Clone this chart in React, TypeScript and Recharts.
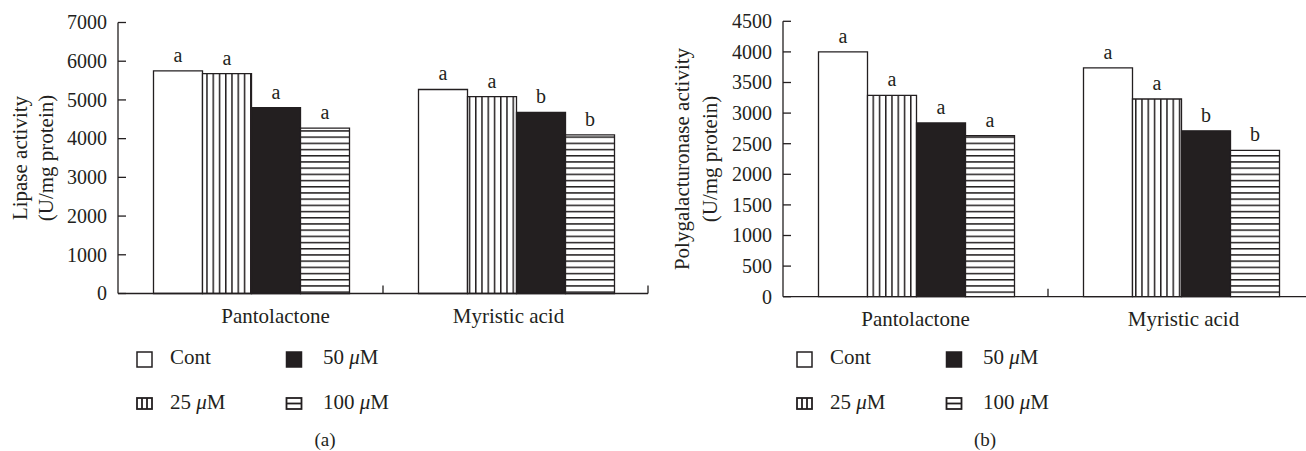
import React from 'react';
import { BarChart, Bar, XAxis, YAxis, LabelList } from 'recharts';

const categories = ['Pantolactone', 'Myristic acid'];
const seriesNames = ['Cont', '25', '50', '100'];

const lipaseCont = [5750, 5270];
const lipase25 = [5680, 5085];
const lipase50 = [4800, 4680];
const lipase100 = [4270, 4095];
const lipaseLetters = [
  ['a', 'a'],
  ['a', 'a'],
  ['a', 'b'],
  ['a', 'b'],
];
const lipaseTicks = [0, 1000, 2000, 3000, 4000, 5000, 6000, 7000];

const pgCont = [4000, 3740];
const pg25 = [3290, 3230];
const pg50 = [2840, 2710];
const pg100 = [2630, 2390];
const pgLetters = [
  ['a', 'a'],
  ['a', 'a'],
  ['a', 'b'],
  ['a', 'b'],
];
const pgTicks = [0, 500, 1000, 1500, 2000, 2500, 3000, 3500, 4000, 4500];

const INK = '#231f20';
const FONT = '"Liberation Serif", "DejaVu Serif", serif';

function buildData(series: number[][], letters: string[][]) {
  return categories.map((cat, i) => {
    const row: any = { cat };
    series.forEach((s, k) => {
      row[`s${k}`] = s[i];
      row[`l${k}`] = letters[k][i];
    });
    return row;
  });
}

const lipaseData = buildData([lipaseCont, lipase25, lipase50, lipase100], lipaseLetters);
const pgData = buildData([pgCont, pg25, pg50, pg100], pgLetters);

type PanelProps = {
  id: string;
  data: any[];
  ticks: number[];
  yLines: string[];
  yLineX: number[];
  axisX: number;
  plotTop: number;
  plotBottom: number;
  rightMargin: number;
  labelShift: number[];
  panelLabel: string;
};

const W = 660;
const H = 340;

function Panel(p: PanelProps) {
  const plotWidth = W - p.axisX - p.rightMargin;
  const band = plotWidth / categories.length;
  const fills = ['#ffffff', `url(#${p.id}-v)`, INK, `url(#${p.id}-h)`];

  const YTick = (props: any) => {
    const { x, y, payload } = props;
    return (
      <g>
        <line x1={x} x2={x + 8} y1={y} y2={y} stroke={INK} strokeWidth={1.3} />
        <text x={x - 11} y={y} dy="0.34em" textAnchor="end" fontFamily={FONT} fontSize={20} fill={INK}>
          {payload.value}
        </text>
      </g>
    );
  };

  const XTick = (props: any) => {
    const { x, y, payload, index } = props;
    const bx = x + band / 2;
    return (
      <g>
        <line x1={bx} x2={bx} y1={y} y2={y - 8} stroke={INK} strokeWidth={1.3} />
        <text x={x + (p.labelShift[index] || 0)} y={y + 29.5} textAnchor="middle" fontFamily={FONT} fontSize={21} fill={INK}>
          {payload.value}
        </text>
      </g>
    );
  };

  const yLabel = (props: any) => {
    const vb = props.viewBox || {};
    const cy = (vb.y ?? p.plotTop) + (vb.height ?? p.plotBottom - p.plotTop) / 2;
    const x0 = vb.x ?? 0;
    return (
      <g>
        {p.yLines.map((t, i) => {
          const lx = x0 + p.yLineX[i];
          return (
            <text key={i} x={lx} y={cy} transform={`rotate(-90 ${lx} ${cy})`} textAnchor="middle" fontFamily={FONT} fontSize={21} fill={INK}>
              {t}
            </text>
          );
        })}
      </g>
    );
  };

  const legendItems = [
    { col: 0, row: 0, k: 0 },
    { col: 1, row: 0, k: 2 },
    { col: 0, row: 1, k: 1 },
    { col: 1, row: 1, k: 3 },
  ];

  const icon = (k: number, x: number, y: number) => {
    if (k === 0) return <rect x={x} y={y} width={15} height={15} fill="#fff" stroke={INK} strokeWidth={1.5} />;
    if (k === 2) return <rect x={x} y={y} width={15} height={15} fill={INK} stroke={INK} strokeWidth={1.5} />;
    if (k === 1)
      return (
        <g>
          <rect x={x} y={y + 2} width={15} height={11} fill="#fff" stroke={INK} strokeWidth={1.8} />
          <line x1={x + 5} x2={x + 5} y1={y + 2} y2={y + 13} stroke={INK} strokeWidth={1.8} />
          <line x1={x + 10} x2={x + 10} y1={y + 2} y2={y + 13} stroke={INK} strokeWidth={1.8} />
        </g>
      );
    return (
      <g>
        <rect x={x} y={y + 2} width={15} height={11} fill="#fff" stroke={INK} strokeWidth={1.8} />
        <line x1={x} x2={x + 15} y1={y + 7.5} y2={y + 7.5} stroke={INK} strokeWidth={1.8} />
      </g>
    );
  };

  return (
    <div style={{ position: 'relative', width: W, height: 451 }}>
      <BarChart
        width={W}
        height={H}
        data={p.data}
        margin={{ top: p.plotTop, right: p.rightMargin, left: 0, bottom: 0 }}
        barCategoryGap={(band - 194) / 2}
        barGap={0}
      >
        <defs>
          <pattern id={`${p.id}-v`} width={6.25} height={10} patternUnits="userSpaceOnUse">
            <rect width={6.25} height={10} fill="#fff" />
            <line x1={0.75} x2={0.75} y1={0} y2={10} stroke={INK} strokeWidth={1.5} />
          </pattern>
          <pattern id={`${p.id}-h`} width={10} height={6.2} patternUnits="userSpaceOnUse">
            <rect width={10} height={6.2} fill="#fff" />
            <line x1={0} x2={10} y1={0.75} y2={0.75} stroke={INK} strokeWidth={1.5} />
          </pattern>
        </defs>
        <XAxis
          dataKey="cat"
          height={H - p.plotBottom}
          axisLine={{ stroke: INK, strokeWidth: 1.3 }}
          tickLine={false}
          tickSize={0}
          tickMargin={0}
          tick={<XTick />}
          interval={0}
        />
        <YAxis
          width={p.axisX}
          domain={[0, p.ticks[p.ticks.length - 1]]}
          ticks={p.ticks}
          interval={0}
          axisLine={{ stroke: INK, strokeWidth: 1.3 }}
          tickLine={false}
          tickSize={0}
          tickMargin={0}
          tick={<YTick />}
          label={{ content: yLabel }}
        />
        {seriesNames.map((name, k) => (
          <Bar key={name} dataKey={`s${k}`} fill={fills[k]} stroke={INK} strokeWidth={1.3} isAnimationActive={false}>
            <LabelList dataKey={`l${k}`} position="top" offset={9} fontFamily={FONT} fontSize={20} fill={INK} />
          </Bar>
        ))}
      </BarChart>
      <svg width={W} height={111} style={{ position: 'absolute', left: 0, top: H }}>
        {legendItems.map((it) => {
          const sx = it.col === 0 ? 137 : 286.5;
          const tx = it.col === 0 ? 170 : 323;
          const rowY = it.row === 0 ? 12 : 56;
          const base = it.row === 0 ? 24 : 69;
          const name = seriesNames[it.k];
          return (
            <g key={it.k}>
              {icon(it.k, sx, rowY)}
              <text x={tx} y={base} fontFamily={FONT} fontSize={21} fill={INK}>
                {it.k === 0 ? (
                  name
                ) : (
                  <>
                    {name + ' '}
                    <tspan fontStyle="italic">μ</tspan>M
                  </>
                )}
              </text>
            </g>
          );
        })}
        <text x={325} y={106} textAnchor="middle" fontFamily={FONT} fontSize={19} fill={INK}>
          {p.panelLabel}
        </text>
      </svg>
    </div>
  );
}

export default function App() {
  return (
    <div style={{ position: 'absolute', left: 0, top: 0, width: 1306, height: 451, overflow: 'hidden', background: '#fff' }}>
      <div style={{ position: 'absolute', left: 0, top: 0 }}>
        <Panel
          id="a"
          data={lipaseData}
          ticks={lipaseTicks}
          yLines={['Lipase activity', '(U/mg protein)']}
          yLineX={[27, 53]}
          axisX={118}
          plotTop={22.5}
          plotBottom={293.5}
          rightMargin={12}
          labelShift={[25, -7]}
          panelLabel="(a)"
        />
      </div>
      <div style={{ position: 'absolute', left: 660, top: 0 }}>
        <Panel
          id="b"
          data={pgData}
          ticks={pgTicks}
          yLines={['Polygalacturonase activity', '(U/mg protein)']}
          yLineX={[29, 57]}
          axisX={123}
          plotTop={21.3}
          plotBottom={296.7}
          rightMargin={7}
          labelShift={[0, 3]}
          panelLabel="(b)"
        />
      </div>
    </div>
  );
}
